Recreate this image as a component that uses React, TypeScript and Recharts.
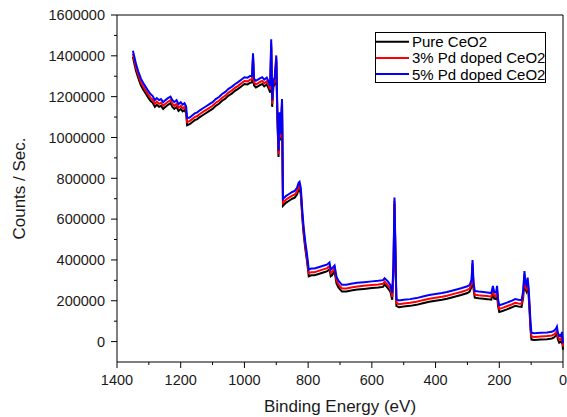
import React from 'react';
import {
  LineChart,
  Line,
  XAxis,
  YAxis,
  Legend,
  Label,
  ReferenceLine,
} from 'recharts';

// binding energy (eV), high to low
const energies = [
  1350, 1346, 1340, 1333, 1325, 1318, 1310, 1302, 1295, 1288,
  1281, 1275, 1268, 1262, 1255, 1248, 1240, 1232, 1226, 1220,
  1213, 1207, 1200, 1194, 1188, 1183, 1180, 1172, 1164, 1156,
  1148, 1140, 1130, 1120, 1110, 1100, 1090, 1080, 1070, 1060,
  1050, 1040, 1030, 1020, 1010, 1000, 990, 982, 976, 973,
  970, 964, 958, 950, 944, 938, 930, 924, 919, 916,
  913, 909, 905, 900, 897, 893, 890, 887, 884, 882,
  879, 870, 860, 850, 842, 835, 830, 827, 823, 818,
  814, 809, 804, 798, 790, 780, 770, 760, 750, 740,
  733, 729, 725, 717, 711, 705, 694, 680, 665, 646,
  625, 600, 580, 565, 560, 550, 542, 536, 532, 529,
  526, 523, 515, 500, 480, 460, 440, 420, 400, 380,
  364, 340, 320, 300, 293, 287, 284, 281, 277, 265,
  250, 238, 225, 220, 216, 210, 207, 204, 200, 190,
  176, 160, 150, 140, 130, 125, 121, 118, 115, 111,
  108, 105, 102, 99, 90, 70, 50, 35, 28, 22,
  19, 16, 12, 8, 5, 3, 0,
];

const pureCeO2 = [
  1395000, 1365000, 1325000, 1290000, 1255000, 1235000, 1215000, 1195000, 1180000, 1170000,
  1150000, 1160000, 1150000, 1155000, 1140000, 1150000, 1160000, 1168000, 1150000, 1140000,
  1150000, 1130000, 1140000, 1128000, 1135000, 1120000, 1060000, 1065000, 1075000, 1085000,
  1090000, 1100000, 1110000, 1120000, 1130000, 1140000, 1155000, 1165000, 1180000, 1190000,
  1205000, 1215000, 1228000, 1238000, 1250000, 1262000, 1260000, 1268000, 1270000, 1385000,
  1255000, 1245000, 1250000, 1258000, 1262000, 1250000, 1260000, 1240000, 1220000, 1445000,
  1150000, 1250000, 1260000, 1375000, 1120000, 905000, 1090000, 985000, 1080000, 1160000,
  665000, 680000, 690000, 700000, 705000, 720000, 745000, 752000, 720000, 600000,
  525000, 455000, 400000, 320000, 325000, 325000, 330000, 335000, 340000, 345000,
  355000, 320000, 325000, 345000, 285000, 265000, 245000, 245000, 250000, 255000,
  258000, 262000, 265000, 268000, 280000, 262000, 245000, 205000, 350000, 675000,
  420000, 175000, 168000, 172000, 175000, 180000, 188000, 195000, 200000, 205000,
  210000, 220000, 228000, 238000, 245000, 270000, 370000, 260000, 215000, 212000,
  210000, 208000, 205000, 240000, 210000, 208000, 240000, 175000, 145000, 150000,
  158000, 168000, 175000, 172000, 170000, 215000, 315000, 255000, 245000, 280000,
  230000, 150000, 60000, 10000, 8000, 10000, 12000, 15000, 20000, 30000,
  40000, 10000, -5000, 0, -5000, 15000, -40000,
];

const pd3CeO2 = [
  1410000, 1380000, 1340000, 1305000, 1270000, 1250000, 1230000, 1210000, 1195000, 1185000,
  1165000, 1175000, 1165000, 1170000, 1155000, 1165000, 1175000, 1183000, 1165000, 1155000,
  1165000, 1145000, 1155000, 1143000, 1150000, 1135000, 1075000, 1080000, 1090000, 1100000,
  1105000, 1115000, 1125000, 1135000, 1145000, 1155000, 1170000, 1180000, 1195000, 1205000,
  1220000, 1230000, 1243000, 1253000, 1265000, 1277000, 1275000, 1283000, 1285000, 1398000,
  1270000, 1260000, 1265000, 1273000, 1277000, 1265000, 1275000, 1255000, 1235000, 1462000,
  1165000, 1265000, 1275000, 1388000, 1135000, 918000, 1105000, 1000000, 1095000, 1172000,
  680000, 695000, 705000, 715000, 720000, 735000, 760000, 767000, 735000, 615000,
  540000, 470000, 415000, 335000, 340000, 340000, 345000, 350000, 355000, 360000,
  370000, 335000, 340000, 360000, 300000, 280000, 260000, 260000, 265000, 270000,
  273000, 277000, 280000, 283000, 294000, 277000, 260000, 220000, 365000, 690000,
  435000, 190000, 183000, 187000, 190000, 195000, 203000, 210000, 215000, 220000,
  225000, 235000, 243000, 253000, 260000, 285000, 384000, 275000, 230000, 227000,
  225000, 223000, 220000, 255000, 225000, 223000, 255000, 190000, 160000, 165000,
  173000, 183000, 190000, 187000, 185000, 230000, 330000, 270000, 260000, 295000,
  245000, 165000, 75000, 25000, 23000, 25000, 27000, 30000, 35000, 45000,
  55000, 25000, 10000, 15000, 10000, 30000, -25000,
];

const pd5CeO2 = [
  1425000, 1398000, 1358000, 1323000, 1288000, 1268000, 1248000, 1228000, 1213000, 1203000,
  1183000, 1193000, 1183000, 1188000, 1173000, 1183000, 1193000, 1200000, 1183000, 1173000,
  1183000, 1163000, 1173000, 1161000, 1168000, 1153000, 1095000, 1098000, 1108000, 1118000,
  1123000, 1133000, 1143000, 1153000, 1163000, 1173000, 1188000, 1198000, 1213000, 1223000,
  1238000, 1248000, 1261000, 1271000, 1283000, 1295000, 1293000, 1301000, 1303000, 1412000,
  1288000, 1278000, 1283000, 1291000, 1295000, 1283000, 1293000, 1273000, 1253000, 1481000,
  1183000, 1283000, 1293000, 1402000, 1153000, 935000, 1123000, 1018000, 1113000, 1188000,
  698000, 713000, 723000, 733000, 738000, 753000, 778000, 783000, 753000, 633000,
  558000, 488000, 433000, 353000, 358000, 358000, 363000, 368000, 373000, 378000,
  388000, 353000, 358000, 373000, 318000, 298000, 278000, 278000, 283000, 288000,
  291000, 295000, 298000, 301000, 310000, 295000, 278000, 238000, 383000, 706000,
  453000, 208000, 201000, 205000, 208000, 213000, 221000, 228000, 233000, 238000,
  243000, 253000, 261000, 271000, 278000, 303000, 400000, 293000, 248000, 245000,
  243000, 241000, 238000, 273000, 243000, 241000, 273000, 208000, 178000, 183000,
  191000, 201000, 208000, 205000, 203000, 248000, 345000, 288000, 278000, 313000,
  263000, 183000, 93000, 43000, 41000, 43000, 45000, 48000, 53000, 63000,
  73000, 43000, 28000, 33000, 28000, 48000, -8000,
];

const seriesNames = ['Pure CeO2', '3% Pd doped CeO2', '5% Pd doped CeO2'];

const xTicks = [0, 100, 200, 300, 400, 500, 600, 700, 800, 900, 1000, 1100, 1200, 1300, 1400];
const yTicks = [
  0, 100000, 200000, 300000, 400000, 500000, 600000, 700000, 800000,
  900000, 1000000, 1100000, 1200000, 1300000, 1400000, 1500000, 1600000,
];

const data = energies.map((energy, i) => ({
  energy,
  pure: pureCeO2[i],
  pd3: pd3CeO2[i],
  pd5: pd5CeO2[i],
}));

const FONT = '"Liberation Sans", Arial, sans-serif';

const XTick = ({ x, y, payload }: any) => {
  const major = payload.value % 200 === 0;
  return (
    <g>
      <line x1={x} y1={y} x2={x} y2={y + (major ? 6 : 3)} stroke="#000" />
      {major && (
        <text x={x} y={y + 23} textAnchor="middle" fontSize={14.5} fill="#1a1a1a">
          {payload.value}
        </text>
      )}
    </g>
  );
};

const YTick = ({ x, y, payload }: any) => {
  const major = payload.value % 200000 === 0;
  return (
    <g>
      <line x1={x} y1={y} x2={x - (major ? 6 : 3)} y2={y} stroke="#000" />
      {major && (
        <text x={x - 12} y={y} dy="0.36em" textAnchor="end" fontSize={14.5} fill="#1a1a1a">
          {payload.value}
        </text>
      )}
    </g>
  );
};

// keep the legend in series order (recharts sorts by name otherwise)
const LegendBox = ({ payload }: any) => {
  const items = [...(payload || [])].sort(
    (a: any, b: any) => seriesNames.indexOf(a.value) - seriesNames.indexOf(b.value)
  );
  return (
    <svg width={172} height={52} style={{ display: 'block' }}>
      <rect x={0.5} y={0.5} width={170} height={50} fill="#fff" stroke="#000" />
      {items.map((p: any, i: number) => {
        const cy = 9.7 + i * 16.2;
        return (
          <g key={p.value}>
            <line x1={1} x2={34} y1={cy} y2={cy} stroke={p.color} strokeWidth={2} />
            <text x={37} y={cy} dy="0.36em" fontSize={15} fill="#000" fontFamily={FONT}>
              {p.value}
            </text>
          </g>
        );
      })}
    </svg>
  );
};

const App = () => {
  return (
    <div style={{ position: 'absolute', left: 0, top: 0, width: 567, height: 417, background: '#fff', fontFamily: FONT }}>
      <LineChart width={567} height={417} data={data} margin={{ top: 15, right: 4, bottom: 0, left: 0 }}>
        <XAxis
          dataKey="energy"
          type="number"
          domain={[0, 1400]}
          reversed
          ticks={xTicks}
          interval={0}
          height={55}
          tickSize={0}
          tickMargin={0}
          tickLine={false}
          tick={(props: any) => <XTick {...props} />}
          axisLine={{ stroke: '#000' }}
        >
          <Label value="Binding Energy (eV)" position="insideBottom" offset={5} style={{ fontSize: 17, fill: '#1a1a1a' }} />
        </XAxis>
        <YAxis
          type="number"
          domain={[-100000, 1600000]}
          ticks={yTicks}
          interval={0}
          width={117}
          tickSize={0}
          tickMargin={0}
          tickLine={false}
          tick={(props: any) => <YTick {...props} />}
          axisLine={{ stroke: '#000' }}
        >
          <Label
            value="Counts / Sec."
            angle={-90}
            position="insideLeft"
            offset={19}
            style={{ fontSize: 17, fill: '#1a1a1a', textAnchor: 'middle' }}
          />
        </YAxis>
        <ReferenceLine y={1600000} stroke="#000" />
        <ReferenceLine x={0} stroke="#000" />
        <Legend
          layout="vertical"
          align="center"
          verticalAlign="middle"
          wrapperStyle={{ left: 375, top: 32, width: 172 }}
          content={(props: any) => <LegendBox {...props} />}
        />
        <Line dataKey="pure" name={seriesNames[0]} stroke="#000000" strokeWidth={2} dot={false} isAnimationActive={false} />
        <Line dataKey="pd3" name={seriesNames[1]} stroke="#ff0000" strokeWidth={2} dot={false} isAnimationActive={false} />
        <Line dataKey="pd5" name={seriesNames[2]} stroke="#0000ff" strokeWidth={2} dot={false} isAnimationActive={false} />
      </LineChart>
    </div>
  );
};

export default App;
